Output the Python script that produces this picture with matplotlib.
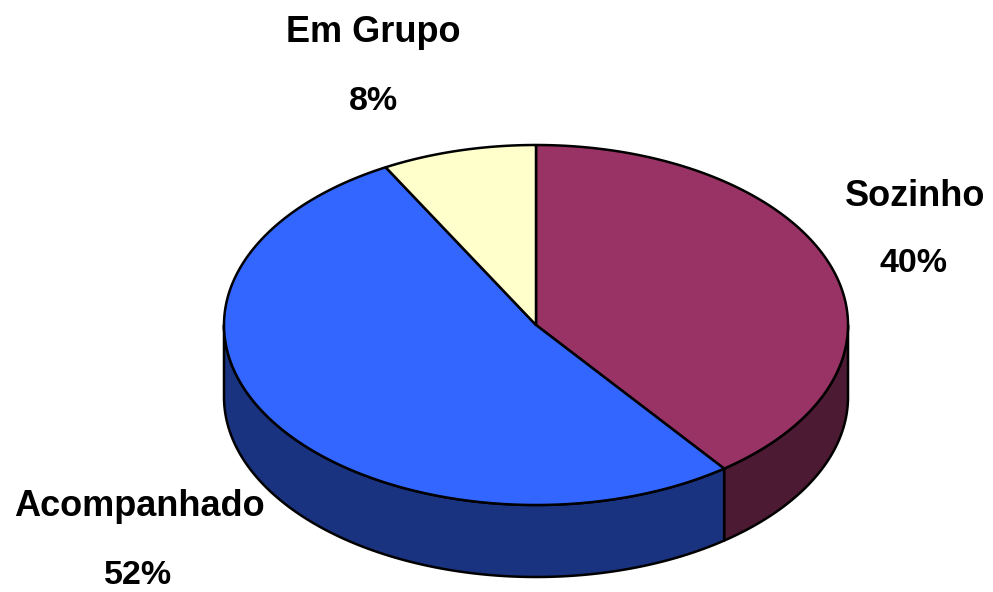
import numpy as np
import matplotlib
matplotlib.use('Agg')
from matplotlib import pyplot as plt

labels = ['Sozinho', 'Acompanhado', 'Em Grupo']
# shares as measured on the picture, the printed labels are rounded
values = [39.7, 52.3, 8.0]
pct_labels = ['40%', '52%', '8%']
top_colors = ['#993366', '#3366FF', '#FFFFCC']
side_colors = ['#4D1A33', '#1A3380', '#80806A']

# centre and radii of the tilted disc, in pixels
cx, cy = 536, 325
rx, ry = 312, 180
depth = 72


def rim(t):
    # t in degrees, clockwise from the top of the pie
    t = np.radians(t)
    return cx + rx * np.sin(t), cy - ry * np.cos(t)


fig = plt.figure(figsize=(9.93, 5.92), dpi=100)
ax = fig.add_axes([0, 0, 1, 1])
ax.set_xlim(0, 993)
ax.set_ylim(592, 0)
ax.axis('off')

edges = np.concatenate([[0], np.cumsum(values)]) * 3.6

# side walls first, only the part that faces the viewer (90..270 deg)
for i in range(len(values)):
    a = max(edges[i], 90)
    b = min(edges[i + 1], 270)
    if b <= a:
        continue
    t = np.linspace(a, b, 200)
    x, y = rim(t)
    xs = np.concatenate([x, x[::-1]])
    ys = np.concatenate([y, y[::-1] + depth])
    ax.fill(xs, ys, facecolor=side_colors[i], edgecolor='black', linewidth=1.8, joinstyle='round')

# top of the pie
for i in range(len(values)):
    t = np.linspace(edges[i], edges[i + 1], 300)
    x, y = rim(t)
    xs = np.concatenate([[cx], x])
    ys = np.concatenate([[cy], y])
    ax.fill(xs, ys, facecolor=top_colors[i], edgecolor='black', linewidth=1.8, joinstyle='round')

font = dict(family=['Liberation Sans', 'DejaVu Sans'], fontweight='bold',
            ha='center', va='center', color='black')
label_pos = [(915, 197), (139, 507), (373, 32)]
pct_pos = [(914, 264), (138, 576), (373, 101)]
for i in range(len(labels)):
    ax.text(label_pos[i][0], label_pos[i][1], labels[i], fontsize=26, **font)
    ax.text(pct_pos[i][0], pct_pos[i][1], pct_labels[i], fontsize=24.5, **font)

fig.savefig('out.png', dpi=100, facecolor='white')
